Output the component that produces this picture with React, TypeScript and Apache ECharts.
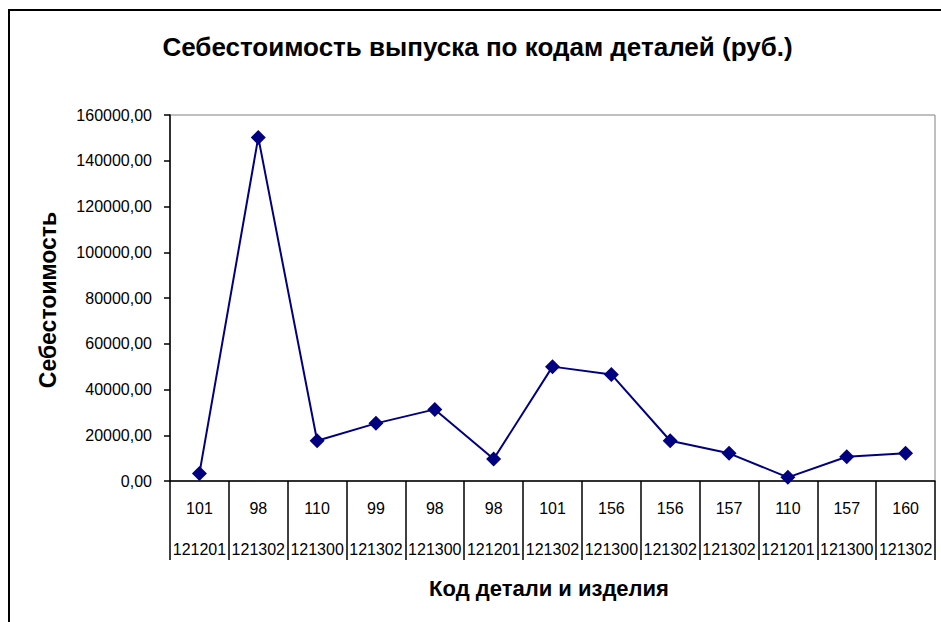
import React, { useEffect, useRef } from "react";
import * as echarts from "echarts";

const partCodes = ["101", "98", "110", "99", "98", "98", "101", "156", "156", "157", "110", "157", "160"];
const productCodes = ["121201", "121302", "121300", "121302", "121300", "121201", "121302", "121300", "121302", "121302", "121201", "121300", "121302"];
const costValues = [3300, 150200, 17600, 25200, 31300, 9600, 50000, 46600, 17600, 12100, 1600, 10600, 12100];
const yTicks = { min: 0, max: 160000, interval: 20000 };

const chartTitle = "Себестоимость выпуска по кодам деталей (руб.)";
const yTitle = "Себестоимость";
const xTitle = "Код детали и изделия";

const FONT = 'Arial, "Liberation Sans", sans-serif';

export default function App() {
  const ref = useRef<HTMLDivElement>(null);
  useEffect(() => {
    if (!ref.current) return;
    const chart = echarts.init(ref.current, null, { renderer: "svg" });
    const categories = partCodes.map((p, i) => p + "|" + productCodes[i]);
    chart.setOption({
      animation: false,
      backgroundColor: "#ffffff",
      grid: {
        left: 170,
        top: 115,
        width: 765,
        height: 366,
        show: true,
        borderColor: "#808080",
        borderWidth: 1,
        containLabel: false,
      },
      xAxis: {
        type: "category",
        data: categories,
        boundaryGap: true,
        axisLine: { show: true, lineStyle: { color: "#000", width: 1.5 } },
        axisTick: { show: true, interval: 0, length: 79, lineStyle: { color: "#000", width: 1.5 } },
        splitLine: { show: false },
        axisLabel: {
          interval: 0,
          margin: 8,
          hideOverlap: false,
          color: "#000",
          fontFamily: FONT,
          fontSize: 16,
          formatter: (v: string) => {
            const [a, b] = v.split("|");
            return `{a|${a}}\n{b|${b}}`;
          },
          rich: {
            a: { fontFamily: FONT, fontSize: 16, color: "#000", lineHeight: 38 },
            b: { fontFamily: FONT, fontSize: 16, color: "#000", lineHeight: 44 },
          },
        },
      },
      yAxis: {
        type: "value",
        min: yTicks.min,
        max: yTicks.max,
        interval: yTicks.interval,
        axisLine: { show: true, lineStyle: { color: "#000", width: 1.5 } },
        axisTick: { show: true, inside: false, length: 6, lineStyle: { color: "#000", width: 1.5 } },
        splitLine: { show: false },
        axisLabel: {
          margin: 18,
          color: "#000",
          fontFamily: FONT,
          fontSize: 16,
          formatter: (v: number) => v.toFixed(2).replace(".", ","),
        },
      },
      series: [
        {
          type: "line",
          data: costValues,
          symbol: "diamond",
          symbolSize: 15,
          lineStyle: { color: "#000080", width: 2 },
          itemStyle: { color: "#000080" },
        },
      ],
      graphic: [
        {
          type: "rect",
          shape: { x: 9, y: 10, width: 1000, height: 700 },
          style: { fill: "none", stroke: "#000", lineWidth: 2 },
          silent: true,
        },
        {
          type: "text",
          x: 477.5,
          y: 47,
          style: {
            text: chartTitle,
            fontFamily: FONT,
            fontSize: 26,
            fontWeight: "bold",
            fill: "#000",
            align: "center",
            verticalAlign: "middle",
          },
        },
        {
          type: "text",
          x: 47.5,
          y: 300,
          rotation: Math.PI / 2,
          style: {
            text: yTitle,
            fontFamily: FONT,
            fontSize: 23,
            fontWeight: "bold",
            fill: "#000",
            align: "center",
            verticalAlign: "middle",
          },
        },
        {
          type: "text",
          x: 549,
          y: 588,
          style: {
            text: xTitle,
            fontFamily: FONT,
            fontSize: 22,
            fontWeight: "bold",
            fill: "#000",
            align: "center",
            verticalAlign: "middle",
          },
        },
      ],
    });
    return () => chart.dispose();
  }, []);
  return (
    <div
      ref={ref}
      style={{ position: "fixed", left: 0, top: 0, width: 941, height: 622, background: "#fff" }}
    />
  );
}
